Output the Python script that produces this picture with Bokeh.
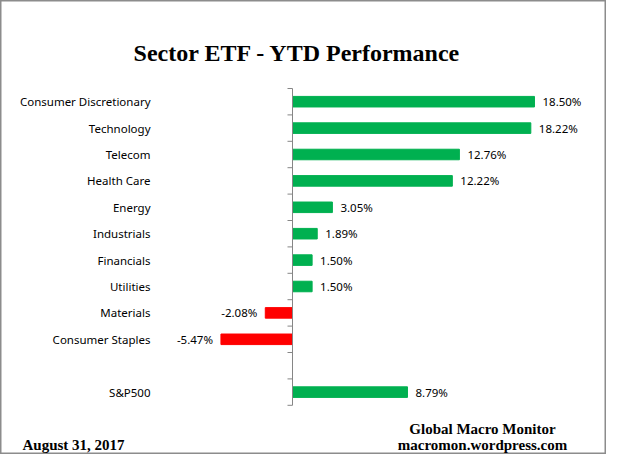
import numpy as np
from bokeh.plotting import figure
from bokeh.models import Range1d, Label, ColumnDataSource
from bokeh.core.properties import value
from bokeh.embed import file_html
from bokeh.resources import INLINE

# ---------------- data ----------------
sectors = ["Consumer Discretionary", "Technology", "Telecom", "Health Care",
           "Energy", "Industrials", "Financials", "Utilities", "Materials",
           "Consumer Staples"]
returns = [18.50, 18.22, 12.76, 12.22, 3.05, 1.89, 1.50, 1.50, -2.08, -5.47]
benchmark = ["S&P500"]
benchmark_return = [8.79]

title_text = "Sector ETF - YTD  Performance"
date_text = "August 31,  2017"
source_lines = ["Global Macro Monitor", "macromon.wordpress.com"]

# ---------------- layout ----------------
W, H = 606, 454
X0 = 292.0          # pixel of zero
PXP = 13.08         # pixels per percent
Y0 = 88.0           # pixel of first slot boundary
SLOT = 26.4         # pixels per slot

def px_x(px):
    return (px - X0) / PXP

def px_y(py):
    return (py - Y0) / SLOT

names = sectors + benchmark
vals = returns + benchmark_return
pos = [i + 0.5 for i in range(len(sectors))] + [len(sectors) + 1.5]
n_slots = len(sectors) + 2

GREEN = "#00B050"
RED = "#FF0000"
colors = [GREEN if v >= 0 else RED for v in vals]
labels = ["%.2f%%" % v for v in vals]

src = ColumnDataSource(dict(
    y=pos, v=vals, name=names, color=colors, lab=labels,
    off=[8 if v >= 0 else -8 for v in vals],
    align=["left" if v >= 0 else "right" for v in vals],
))

p = figure(width=W, height=H, output_backend="svg", toolbar_location=None,
           x_range=Range1d(px_x(0), px_x(W)), y_range=Range1d(px_y(H), px_y(0)),
           x_axis_type=None, y_axis_type=None, min_border=0,
           background_fill_color="white", border_fill_color="white")
p.grid.visible = False
p.outline_line_color = "#8c8c8c"
p.outline_line_width = 2

# bars
p.hbar(y="y", left=0, right="v", height=0.4, color="color", source=src)

# zero axis line and ticks
p.segment(x0=[0], y0=[0], x1=[0], y1=[n_slots], line_color="#868686", line_width=1)
tick_y = list(range(n_slots + 1))
p.segment(x0=[px_x(X0 - 5)] * len(tick_y), y0=tick_y, x1=[0] * len(tick_y), y1=tick_y,
          line_color="#868686", line_width=1)

# value labels
p.text(x="v", y="y", text="lab", x_offset="off", text_align="align",
       text_baseline="middle", text_font=value("Noto Sans"), text_font_size="11.5px",
       text_color="#000000", source=src)

# category labels
p.text(x=[px_x(150)] * len(names), y=pos, text=names, text_align="right",
       text_baseline="middle", text_font=value("Noto Sans"), text_font_size="11.5px",
       text_color="#000000")

# title
p.add_layout(Label(x=px_x(300), y=px_y(52.5), text=title_text, text_align="center",
                   text_baseline="alphabetic", text_font="Liberation Serif",
                   text_font_style="bold", text_font_size="24px", text_color="black"))
# footer
p.add_layout(Label(x=px_x(22), y=px_y(444.5), text=date_text, text_align="left",
                   text_baseline="alphabetic", text_font="Liberation Serif",
                   text_font_style="bold", text_font_size="15px", text_color="black"))
for i, s in enumerate(source_lines):
    p.add_layout(Label(x=px_x(482), y=px_y(428 + 16.5 * i), text=s, text_align="center",
                       text_baseline="alphabetic", text_font="Liberation Serif",
                       text_font_style="bold", text_font_size="15px", text_color="black"))

open("out.html", "w").write(file_html(p, INLINE))
